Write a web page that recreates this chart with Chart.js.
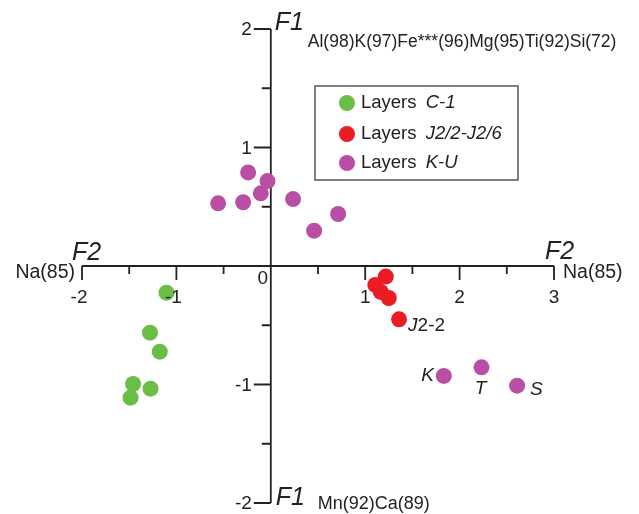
<!DOCTYPE html>
<html>
<head>
<meta charset="utf-8">
<script src="https://cdn.jsdelivr.net/npm/chart.js@4"></script>
<style>
  html, body { margin: 0; padding: 0; background: #fff; }
  #wrap { width: 639px; height: 514px; }
</style>
</head>
<body>
<div id="wrap"><canvas id="c" width="639" height="514"></canvas></div>
<script>
// F2 (x) / F1 (y) factor scores
const c1X = [-1.105, -1.28, -1.176, -1.459, -1.274, -1.486];
const c1Y = [-0.225, -0.563, -0.723, -0.996, -1.035, -1.111];

const j2X = [1.218, 1.107, 1.165, 1.25, 1.359];
const j2Y = [-0.089, -0.16, -0.219, -0.27, -0.45];

const kuX = [-0.24, -0.035, -0.106, -0.558, -0.293, 0.236, 0.713, 0.459, 1.833, 2.232, 2.609];
const kuY = [0.79, 0.717, 0.613, 0.529, 0.538, 0.565, 0.439, 0.298, -0.928, -0.855, -1.01];

const xTickLabels = ['-2', '-1', '0', '1', '2', '3'];
const yTickLabels = ['-2', '-1', '1', '2'];

const seriesNames = [['Layers ', 'C-1'], ['Layers ', 'J2/2-J2/6'], ['Layers ', 'K-U']];
const COLORS = ['#6abd45', '#ec1c24', '#b94fa5'];

// point annotations: [dataset, index, text, italic]
const pointNotes = [
  [1, 4, 'J2-2', false],
  [2, 8, 'K', true],
  [2, 9, 'T', true],
  [2, 10, 'S', true]
];

function toPoints(xs, ys) {
  return xs.map((x, i) => ({ x, y: ys[i] }));
}

const FONT = '"Liberation Sans", Arial, sans-serif';
const INK = '#222';

const axesPlugin = {
  id: 'crossAxes',
  beforeDatasetsDraw(chart) {
    const { ctx, scales: { x, y } } = chart;
    const x0 = x.getPixelForValue(0), y0 = y.getPixelForValue(0);
    ctx.save();
    ctx.strokeStyle = INK;
    ctx.lineWidth = 1.8;
    ctx.beginPath();
    ctx.moveTo(x.getPixelForValue(x.min), y0);
    ctx.lineTo(x.getPixelForValue(x.max), y0);
    ctx.moveTo(x0, y.getPixelForValue(y.max));
    ctx.lineTo(x0, y.getPixelForValue(y.min));
    // x ticks, downward
    for (let v = x.min; v <= x.max + 1e-9; v += 0.5) {
      if (Math.abs(v) < 1e-9) continue;
      const len = Number.isInteger(v) ? 14 : 8;
      const px = x.getPixelForValue(v);
      ctx.moveTo(px, y0);
      ctx.lineTo(px, y0 + len);
    }
    // y ticks, leftward
    for (let v = y.min; v <= y.max + 1e-9; v += 0.5) {
      if (Math.abs(v) < 1e-9) continue;
      const len = Number.isInteger(v) ? 17 : 9;
      const py = y.getPixelForValue(v);
      ctx.moveTo(x0, py);
      ctx.lineTo(x0 - len, py);
    }
    ctx.stroke();
    ctx.restore();
  },
  afterDatasetsDraw(chart) {
    const { ctx, scales: { x, y } } = chart;
    const x0 = x.getPixelForValue(0), y0 = y.getPixelForValue(0);
    ctx.save();
    ctx.fillStyle = INK;
    ctx.textBaseline = 'middle';

    // x tick labels
    ctx.font = '19px ' + FONT;
    ctx.textAlign = 'center';
    xTickLabels.forEach(t => {
      const v = Number(t);
      if (v === 0) {
        ctx.fillText(t, x0 - 8, y0 + 13);
      } else {
        ctx.fillText(t, x.getPixelForValue(v) - (v < 0 ? 3 : 0), y0 + 32);
      }
    });
    // y tick labels
    ctx.textAlign = 'right';
    yTickLabels.forEach(t => {
      ctx.fillText(t, x0 - 19, y.getPixelForValue(Number(t)) + 1);
    });

    // axis titles
    ctx.font = 'italic 25px ' + FONT;
    ctx.textAlign = 'left';
    ctx.fillText('F2', x.getPixelForValue(x.min) - 10, y0 - 13);
    ctx.fillText('F2', x.getPixelForValue(x.max) - 9, y0 - 14);
    ctx.fillText('F1', x0 + 4, y.getPixelForValue(y.max) - 6);
    ctx.fillText('F1', x0 + 5, y.getPixelForValue(y.min) - 5);

    ctx.font = '19.5px ' + FONT;
    ctx.textAlign = 'right';
    ctx.fillText('Na(85)', x.getPixelForValue(x.min) - 7, y0 + 7);
    ctx.textAlign = 'left';
    ctx.fillText('Na(85)', x.getPixelForValue(x.max) + 9, y0 + 7);

    ctx.font = '17.5px ' + FONT;
    ctx.fillText('Al(98)K(97)Fe***(96)Mg(95)Ti(92)Si(72)', x0 + 37, y.getPixelForValue(y.max) + 13);
    ctx.font = '18px ' + FONT;
    ctx.fillText('Mn(92)Ca(89)', x0 + 47, y.getPixelForValue(y.min) + 1);

    // point annotations
    pointNotes.forEach(([ds, i, text, italic]) => {
      const el = chart.getDatasetMeta(ds).data[i];
      ctx.font = (italic ? 'italic ' : '') + '19px ' + FONT;
      let dx = 0, dy = 0;
      if (text === 'J2-2') { ctx.textAlign = 'left'; dx = 9; dy = 6; }
      if (text === 'K') { ctx.textAlign = 'right'; dx = -10; dy = 0; }
      if (text === 'T') { ctx.textAlign = 'center'; dx = -1; dy = 21; }
      if (text === 'S') { ctx.textAlign = 'left'; dx = 13; dy = 4; }
      if (text === 'J2-2') {
        ctx.font = 'italic 19px ' + FONT;
        ctx.fillText('J', el.x + dx, el.y + dy);
        const w = ctx.measureText('J').width;
        ctx.font = '19px ' + FONT;
        ctx.fillText('2-2', el.x + dx + w, el.y + dy);
      } else {
        ctx.fillText(text, el.x + dx, el.y + dy);
      }
    });

    // legend box
    const bx = 315, by = 86, bw = 203, bh = 94;
    ctx.strokeStyle = '#555';
    ctx.lineWidth = 1.5;
    ctx.strokeRect(bx, by, bw, bh);
    const rows = [103, 134, 163];
    ctx.textAlign = 'left';
    seriesNames.forEach((parts, k) => {
      ctx.fillStyle = COLORS[k];
      ctx.beginPath();
      ctx.arc(bx + 32, rows[k], 8, 0, Math.PI * 2);
      ctx.fill();
      ctx.fillStyle = INK;
      ctx.font = '18.5px ' + FONT;
      ctx.fillText(parts[0], bx + 46, rows[k]);
      const w = ctx.measureText(parts[0]).width;
      ctx.font = 'italic 18.5px ' + FONT;
      ctx.fillText(parts[1], bx + 46 + w + 4, rows[k]);
    });
    ctx.restore();
  }
};

new Chart(document.getElementById('c'), {
  type: 'scatter',
  data: {
    datasets: [
      { label: 'Layers C-1', data: toPoints(c1X, c1Y), backgroundColor: COLORS[0] },
      { label: 'Layers J2/2-J2/6', data: toPoints(j2X, j2Y), backgroundColor: COLORS[1] },
      { label: 'Layers K-U', data: toPoints(kuX, kuY), backgroundColor: COLORS[2] }
    ]
  },
  options: {
    responsive: false,
    animation: false,
    layout: { padding: { left: 82, right: 85, top: 29, bottom: 11 } },
    elements: { point: { radius: 8, borderWidth: 0, hoverRadius: 8 } },
    scales: {
      x: { type: 'linear', min: -2, max: 3, display: false },
      y: { type: 'linear', min: -2, max: 2, display: false }
    },
    plugins: {
      legend: { display: false },
      tooltip: { enabled: false }
    }
  },
  plugins: [axesPlugin]
});
</script>
</body>
</html>
